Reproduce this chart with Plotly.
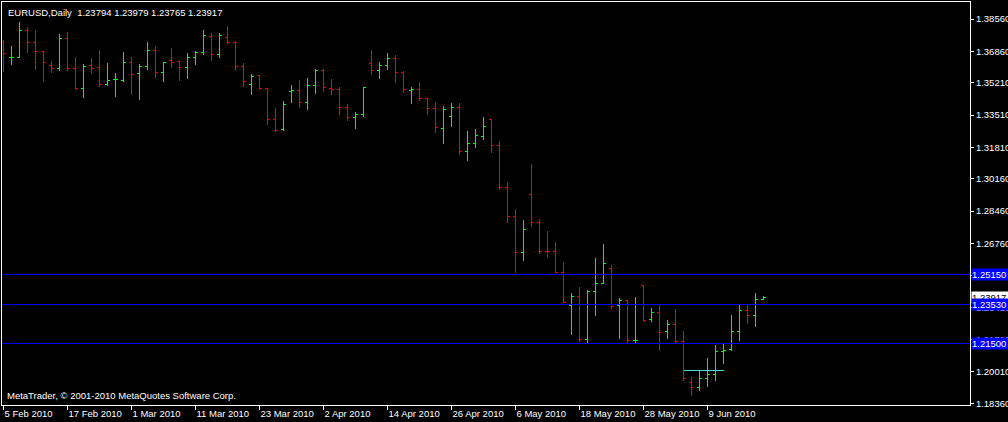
import plotly.graph_objects as go

# ---- data (EURUSD daily, trading-day index 0 = 5 Feb 2010) ----
opens = [1.3735, 1.3653, 1.3653, 1.3793, 1.3734, 1.3686, 1.3611, 1.3597, 1.3752, 1.3597,
         1.3492, 1.3613, 1.3600, 1.3511, 1.3537, 1.3535, 1.3626, 1.3567, 1.3607, 1.3692,
         1.3577, 1.3639, 1.3632, 1.3602, 1.3655, 1.3679, 1.3763, 1.3672, 1.3760, 1.3735,
         1.3609, 1.3514, 1.3560, 1.3492, 1.3330, 1.3273, 1.3474, 1.3479, 1.3418, 1.3507,
         1.3583, 1.3492, 1.3483, 1.3392, 1.3339, 1.3355, 1.3623, 1.3583, 1.3613, 1.3649,
         1.3577, 1.3478, 1.3487, 1.3437, 1.3387, 1.3283, 1.3345, 1.3392, 1.3161, 1.3203,
         1.3241, 1.3330, 1.3189, 1.2971, 1.2819, 1.2630, 1.2935, 1.2788, 1.2635, 1.2633,
         1.2525, 1.2351, 1.2399, 1.2174, 1.2425, 1.2468, 1.2546, 1.2351, 1.2374, 1.2164,
         1.2455, 1.2278, 1.2311, 1.2216, 1.2251, 1.2162, 1.1947, 1.1920, 1.1968, 1.1990,
         1.2109, 1.2120, 1.2215, 1.2325, 1.2299, 1.23794]
highs = [1.3746, 1.3714, 1.3840, 1.3816, 1.3798, 1.3689, 1.3635, 1.3777, 1.3788, 1.3655,
         1.3618, 1.3649, 1.3693, 1.3626, 1.3572, 1.3683, 1.3655, 1.3620, 1.3735, 1.3716,
         1.3632, 1.3702, 1.3635, 1.3679, 1.3688, 1.3798, 1.3781, 1.3781, 1.3819, 1.3740,
         1.3626, 1.3567, 1.3562, 1.3493, 1.3390, 1.3425, 1.3509, 1.3535, 1.3544, 1.3592,
         1.3592, 1.3539, 1.3497, 1.3409, 1.3366, 1.3497, 1.3693, 1.3630, 1.3676, 1.3667,
         1.3583, 1.3497, 1.3525, 1.3440, 1.3420, 1.3399, 1.3413, 1.3413, 1.3267, 1.3278,
         1.3342, 1.3331, 1.3215, 1.2998, 1.2857, 1.2800, 1.3094, 1.2803, 1.2742, 1.2684,
         1.2577, 1.2417, 1.2446, 1.2432, 1.2600, 1.2673, 1.2563, 1.2388, 1.2375, 1.2395,
         1.2458, 1.2335, 1.2353, 1.2274, 1.2330, 1.2216, 1.1973, 1.2008, 1.2073, 1.2143,
         1.2146, 1.2300, 1.2353, 1.2353, 1.2414, 1.23979]
lows = [1.3579, 1.3614, 1.3649, 1.3676, 1.3588, 1.3526, 1.3574, 1.3584, 1.3583, 1.3483,
        1.3442, 1.3567, 1.3497, 1.3504, 1.3448, 1.3526, 1.3457, 1.3430, 1.3588, 1.3548,
        1.3526, 1.3600, 1.3532, 1.3541, 1.3614, 1.3667, 1.3635, 1.3653, 1.3723, 1.3588,
        1.3497, 1.3457, 1.3483, 1.3299, 1.3264, 1.3268, 1.3416, 1.3387, 1.3378, 1.3460,
        1.3474, 1.3457, 1.3351, 1.3321, 1.3278, 1.3339, 1.3562, 1.3541, 1.3588, 1.3518,
        1.3469, 1.3409, 1.3427, 1.3351, 1.3258, 1.3199, 1.3290, 1.3141, 1.3111, 1.3180,
        1.3220, 1.3153, 1.2957, 1.2785, 1.2519, 1.2586, 1.2761, 1.2621, 1.2598, 1.2519,
        1.2362, 1.2194, 1.2160, 1.2146, 1.2297, 1.2462, 1.2330, 1.2176, 1.2155, 1.2155,
        1.2265, 1.2265, 1.2111, 1.2174, 1.2151, 1.1953, 1.1876, 1.1901, 1.1923, 1.1953,
        1.2044, 1.2113, 1.2165, 1.2253, 1.2239, 1.23765]
closes = [1.3676, 1.3656, 1.3793, 1.3734, 1.3686, 1.3628, 1.3597, 1.3752, 1.3597, 1.3490,
          1.3609, 1.3597, 1.3511, 1.3532, 1.3539, 1.3630, 1.3565, 1.3609, 1.3692, 1.3577,
          1.3626, 1.3628, 1.3602, 1.3655, 1.3679, 1.3770, 1.3672, 1.3768, 1.3734, 1.3607,
          1.3529, 1.3556, 1.3492, 1.3330, 1.3269, 1.3408, 1.3479, 1.3416, 1.3509, 1.3583,
          1.3497, 1.3483, 1.3392, 1.3339, 1.3355, 1.3497, 1.3584, 1.3613, 1.3649, 1.3577,
          1.3487, 1.3488, 1.3437, 1.3387, 1.3287, 1.3381, 1.3392, 1.3161, 1.3203, 1.3245,
          1.3292, 1.3189, 1.2971, 1.2819, 1.2630, 1.2751, 1.2788, 1.2635, 1.2633, 1.2525,
          1.2366, 1.2399, 1.2174, 1.2425, 1.2468, 1.2572, 1.2346, 1.2374, 1.2164, 1.2167,
          1.2272, 1.2311, 1.2209, 1.2251, 1.2162, 1.1968, 1.1920, 1.1968, 1.1990, 1.2109,
          1.2111, 1.2215, 1.2325, 1.2299, 1.2384, 1.23917]

date_tick_index = [0, 8, 16, 24, 32, 40, 48, 56, 64, 72, 80, 88]
date_tick_labels = ["5 Feb 2010", "17 Feb 2010", "1 Mar 2010", "11 Mar 2010", "23 Mar 2010",
                    "2 Apr 2010", "14 Apr 2010", "26 Apr 2010", "6 May 2010", "18 May 2010",
                    "28 May 2010", "9 Jun 2010"]
price_ticks = [1.38560, 1.36860, 1.35210, 1.33510, 1.31810, 1.30160, 1.28460, 1.26760,
               1.25060, 1.23410, 1.21710, 1.20010, 1.18360]

hlines = [1.25150, 1.23530, 1.21500]
trend_index = [85, 90]
trend_level = 1.2010
title_text = "EURUSD,Daily  1.23794 1.23979 1.23765 1.23917"
last_price = 1.23917

FONT = "Liberation Sans"
FS = 9.5
x = list(range(len(opens)))

fig = go.Figure()
fig.add_trace(go.Ohlc(
    x=x, open=opens, high=highs, low=lows, close=closes,
    increasing=dict(line=dict(color="#00FF00", width=1)),
    decreasing=dict(line=dict(color="#FF0000", width=1)),
    tickwidth=0.3, showlegend=False, hoverinfo="skip"))

fig.add_trace(go.Scatter(x=trend_index, y=[trend_level, trend_level], mode="lines",
                         line=dict(color="#40E0D0", width=1), showlegend=False,
                         hoverinfo="skip"))

for lv in hlines:
    fig.add_hline(y=lv, line=dict(color="#0000FF", width=1), layer="above")

annotations = []
annotations.append(dict(xref="paper", yref="y", x=1, y=last_price, xanchor="left",
                        yanchor="middle", xshift=1, text=f"{last_price:.5f}",
                        showarrow=False, bgcolor="#FFFFFF", width=40, align="left",
                        borderpad=0, font=dict(family=FONT, size=FS, color="#000000")))
for lv in hlines:
    annotations.append(dict(xref="paper", yref="y", x=1, y=lv, xanchor="left",
                            yanchor="middle", xshift=1, text=f"{lv:.5f}",
                            showarrow=False, bgcolor="#0000FF", width=40, align="left",
                            borderpad=0, font=dict(family=FONT, size=FS, color="#FFFFFF")))
annotations.append(dict(xref="paper", yref="paper", x=0, y=1, xanchor="left", yanchor="top",
                        xshift=4, yshift=-3, text=title_text, showarrow=False,
                        font=dict(family=FONT, size=FS, color="#FFFFFF")))
annotations.append(dict(xref="paper", yref="paper", x=0, y=0, xanchor="left", yanchor="bottom",
                        xshift=3, yshift=2,
                        text="MetaTrader, © 2001-2010 MetaQuotes Software Corp.",
                        showarrow=False, font=dict(family=FONT, size=FS, color="#FFFFFF")))

fig.update_layout(
    width=1008, height=422,
    paper_bgcolor="#000000", plot_bgcolor="#000000",
    margin=dict(l=2, r=38, t=2, b=17, autoexpand=False),
    font=dict(family=FONT, size=FS, color="#FFFFFF"),
    annotations=annotations,
    xaxis=dict(range=[-0.1875, 120.8125], showgrid=False, zeroline=False,
               showline=True, linecolor="#FFFFFF", linewidth=1, mirror=True,
               tickmode="array", tickvals=date_tick_index, ticktext=date_tick_labels,
               ticks="outside", ticklen=4, tickcolor="#FFFFFF", tickwidth=1,
               tickangle=0, automargin=False,
               ticklabelposition="outside right",
               tickfont=dict(family=FONT, size=FS, color="#FFFFFF"),
               rangeslider=dict(visible=False), fixedrange=True),
    yaxis=dict(range=[1.18271, 1.39454], side="right", showgrid=False, zeroline=False,
               showline=True, linecolor="#FFFFFF", linewidth=1, mirror=True,
               tickmode="array", tickvals=price_ticks,
               ticktext=[f"{v:.5f}" for v in price_ticks], automargin=False,
               ticks="outside", ticklen=3, tickcolor="#FFFFFF", tickwidth=1,
               tickfont=dict(family=FONT, size=FS, color="#FFFFFF"), fixedrange=True),
)

post = (
    "document.body.style.margin='0';document.body.style.background='#000';"
    "var s=document.createElement('style');"
    "s.innerHTML='.ohlclayer path, .shapelayer path, .scatterlayer path"
    "{shape-rendering:crispEdges !important;}';"
    "document.head.appendChild(s);"
)
fig.write_html("out.html", config={"displayModeBar": False}, post_script=post)
